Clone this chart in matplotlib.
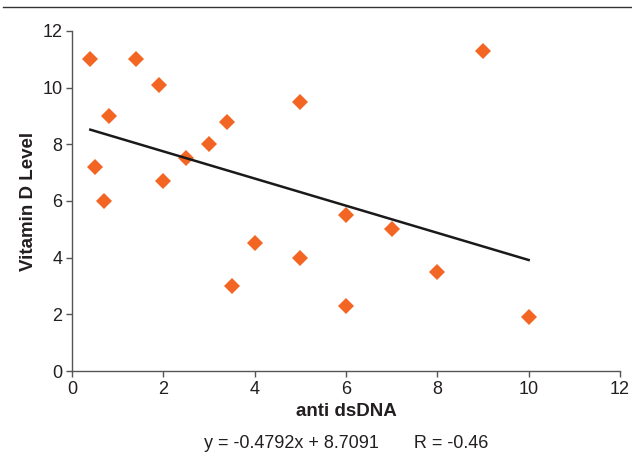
import matplotlib
matplotlib.use("Agg")
import matplotlib.pyplot as plt
import numpy as np

plt.rcParams['font.family'] = ['Liberation Sans', 'DejaVu Sans']

# anti dsDNA vs vitamin D
anti_dsdna = [0.4, 0.5, 0.7, 0.8, 1.4, 1.9, 2.0, 2.5, 3.0, 3.4,
              3.5, 4.0, 5.0, 5.0, 6.0, 6.0, 7.0, 8.0, 9.0, 10.0]
vit_d = [11.0, 7.2, 6.0, 9.0, 11.0, 10.1, 6.7, 7.5, 8.0, 8.8,
         3.0, 4.5, 9.5, 4.0, 5.5, 2.3, 5.0, 3.5, 11.3, 1.9]

slope = -0.4792
intercept = 8.7091
r_value = -0.46
ticks = [0, 2, 4, 6, 8, 10, 12]

fig = plt.figure(figsize=(6.32, 4.55), dpi=100)
ax = fig.add_axes([0.114, 0.1846, 0.867, 0.7473])

ax.plot(anti_dsdna, vit_d, 'D', color='#f26522', markersize=8, markeredgewidth=0)

xfit = np.array([min(anti_dsdna), max(anti_dsdna)])
ax.plot(xfit, slope*xfit + intercept, color='#1a1a1a', linewidth=1.8)

ax.set_xlim(0, 12)
ax.set_ylim(0, 12)
ax.set_xticks(ticks)
ax.set_yticks(ticks)
for s in ['top', 'right']:
  ax.spines[s].set_visible(False)
for s in ['left', 'bottom']:
  ax.spines[s].set_color('#555555')
  ax.spines[s].set_linewidth(1.0)
ax.tick_params(direction='out', length=4, width=1, color='#555555',
               labelsize=13, labelcolor='#231f20', pad=3)

ax.set_xlabel('anti dsDNA', fontsize=13.5, fontweight='bold', color='#231f20', labelpad=4)
ax.set_ylabel('Vitamin D Level', fontsize=13.5, fontweight='bold', color='#231f20', labelpad=4)

fig.text(0.547, 0.026, 'y = %.4fx + %.4f       R = %.2f' % (slope, intercept, r_value),
         ha='center', va='center', fontsize=13, color='#231f20')

# rule across the top
fig.add_artist(plt.Line2D([0.005, 1.0], [0.985, 0.985], color='#333333', linewidth=1.0))

fig.savefig('out.png', dpi=100)
